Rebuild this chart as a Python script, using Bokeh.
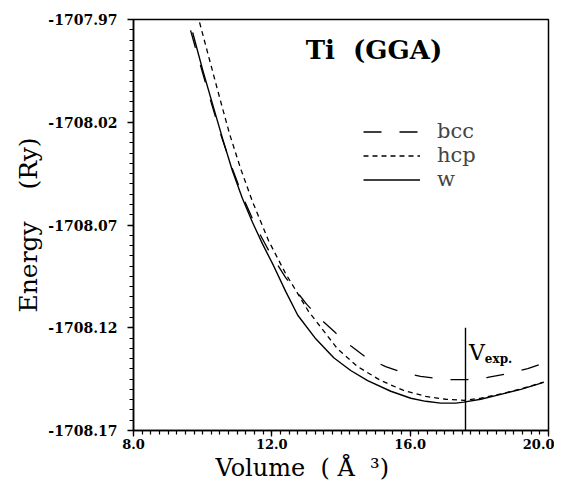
from bokeh.plotting import figure
from bokeh.models import (FixedTicker, PrintfTickFormatter, Label, Legend, LegendItem, Title)
from bokeh.embed import file_html
from bokeh.resources import INLINE

# ---- data ----
vol_w = [9.71, 10.00, 10.29, 10.58, 10.86, 11.15, 11.44, 11.73, 12.05, 12.40, 12.75, 13.27,
         13.79, 14.28, 14.77, 15.44, 16.02, 16.45, 16.88, 17.32, 17.55, 18.04, 18.62, 19.20, 19.86]
e_w = [-1707.9763, -1707.9945, -1708.0114, -1708.0282, -1708.0436, -1708.0571, -1708.0687,
       -1708.0792, -1708.0898, -1708.1023, -1708.1139, -1708.1254, -1708.1346, -1708.1408,
       -1708.1457, -1708.1509, -1708.1543, -1708.1558, -1708.1567, -1708.1567, -1708.1562,
       -1708.1548, -1708.1524, -1708.1500, -1708.1466]

vol_hcp = [9.91, 10.20, 10.49, 10.78, 11.10, 11.44, 11.91, 12.40, 13.06, 13.90, 14.48, 15.15,
           15.81, 16.45, 17.03, 17.55, 18.04, 18.62, 19.20, 19.86]
e_hcp = [-1707.9714, -1707.9897, -1708.0080, -1708.0258, -1708.0427, -1708.0586, -1708.0778,
         -1708.0937, -1708.1120, -1708.1303, -1708.1389, -1708.1457, -1708.1505, -1708.1534,
         -1708.1548, -1708.1553, -1708.1543, -1708.1522, -1708.1498, -1708.1464]

vol_bcc = [9.65, 9.94, 10.23, 10.52, 10.84, 11.18, 11.56, 11.96, 12.40, 13.01, 13.41, 13.85,
           14.28, 14.74, 15.29, 15.78, 16.30, 17.06, 17.66, 18.24, 18.82, 19.40, 19.98]
e_bcc = [-1707.9753, -1707.9926, -1708.0095, -1708.0258, -1708.0417, -1708.0571, -1708.0715,
         -1708.0840, -1708.0956, -1708.1086, -1708.1158, -1708.1226, -1708.1288, -1708.1346,
         -1708.1389, -1708.1418, -1708.1437, -1708.1452, -1708.1452, -1708.1442, -1708.1423,
         -1708.1399, -1708.1365]

v_exp = 17.6
v_exp_top = -1708.12

x_major = [8.0, 12.0, 16.0, 20.0]
y_major = [-1708.17, -1708.12, -1708.07, -1708.02, -1707.97]
x_minor = [8.0 + 0.25 * i for i in range(49)]
y_minor = [-1708.17 + 0.005 * i for i in range(41)]

FONT = "'DejaVu Serif', serif"

p = figure(width=554, height=481, x_range=(8.0, 20.0), y_range=(-1708.17, -1707.97),
           output_backend="svg", toolbar_location=None,
           min_border_left=133, min_border_right=6, min_border_top=19, min_border_bottom=46)
p.background_fill_color = "white"
p.border_fill_color = "white"
p.grid.visible = False
p.outline_line_color = "black"
p.outline_line_width = 1.5

for ax in (p.xaxis[0], p.yaxis[0]):
    ax.axis_line_width = 1.5
    ax.major_tick_line_width = 1.3
    ax.minor_tick_line_width = 1.2
    ax.major_tick_in = 0
    ax.minor_tick_in = 0
    ax.major_tick_out = 6
    ax.minor_tick_out = 4
    ax.major_label_text_font = FONT
    ax.major_label_text_font_style = "bold"
    ax.major_label_text_color = "black"
    ax.axis_label = None

p.xaxis.ticker = FixedTicker(ticks=x_major, minor_ticks=x_minor)
p.yaxis.ticker = FixedTicker(ticks=y_major, minor_ticks=y_minor)
p.xaxis.formatter = PrintfTickFormatter(format="%.1f")
p.yaxis.formatter = PrintfTickFormatter(format="%.2f")
p.xaxis.major_label_text_font_size = "13px"
p.yaxis.major_label_text_font_size = "14px"
p.xaxis.major_label_standoff = 2
p.yaxis.major_label_standoff = 10

r_bcc = p.line(vol_bcc, e_bcc, line_color="black", line_width=1.3, line_dash="18 18")
r_hcp = p.line(vol_hcp, e_hcp, line_color="black", line_width=1.3, line_dash="5 4")
r_w = p.line(vol_w, e_w, line_color="black", line_width=1.4)

p.segment(x0=[v_exp], y0=[-1708.17], x1=[v_exp], y1=[v_exp_top], line_color="black", line_width=1.4)

legend = Legend(items=[LegendItem(label="bcc", renderers=[r_bcc]),
                       LegendItem(label="hcp", renderers=[r_hcp]),
                       LegendItem(label="w", renderers=[r_w])],
                location=(230, 239), orientation="vertical")
legend.background_fill_alpha = 0
legend.border_line_color = None
legend.padding = 0
legend.margin = 0
legend.spacing = 0
legend.glyph_width = 57
legend.glyph_height = 21
legend.label_height = 21
legend.label_standoff = 17
legend.label_text_font = FONT
legend.label_text_font_size = "21px"
legend.label_text_baseline = "middle"
p.add_layout(legend, "center")

# title inside plot
p.add_layout(Label(x=12.98, y=-1707.9849, text="Ti\u00a0\u00a0(GGA)", text_font=FONT,
                   text_font_size="26px", text_font_style="bold", text_baseline="middle",
                   text_align="left", text_color="black"))

# V_exp label
p.add_layout(Label(x=17.70, y=-1708.1322, text="V", text_font=FONT, text_font_size="22px",
                   text_baseline="alphabetic", text_color="black"))
p.add_layout(Label(x=18.16, y=-1708.1352, text="exp.", text_font=FONT, text_font_size="12px",
                   text_font_style="bold", text_baseline="alphabetic", text_color="black"))

# axis titles
p.add_layout(Title(text="Energy\u00a0\u00a0\u00a0\u00a0(Ry)", text_font=FONT, text_font_size="25px",
                   text_font_style="normal", align="center", standoff=6, text_color="black"), "left")
p.add_layout(Title(text="Volume\u00a0\u00a0(\u00a0Å\u00a0\u00a0³)", text_font=FONT, text_font_size="24px",
                   text_font_style="normal", align="left", offset=82, standoff=0,
                   text_color="black"), "below")

open("out.html", "w").write(file_html(p, INLINE))
